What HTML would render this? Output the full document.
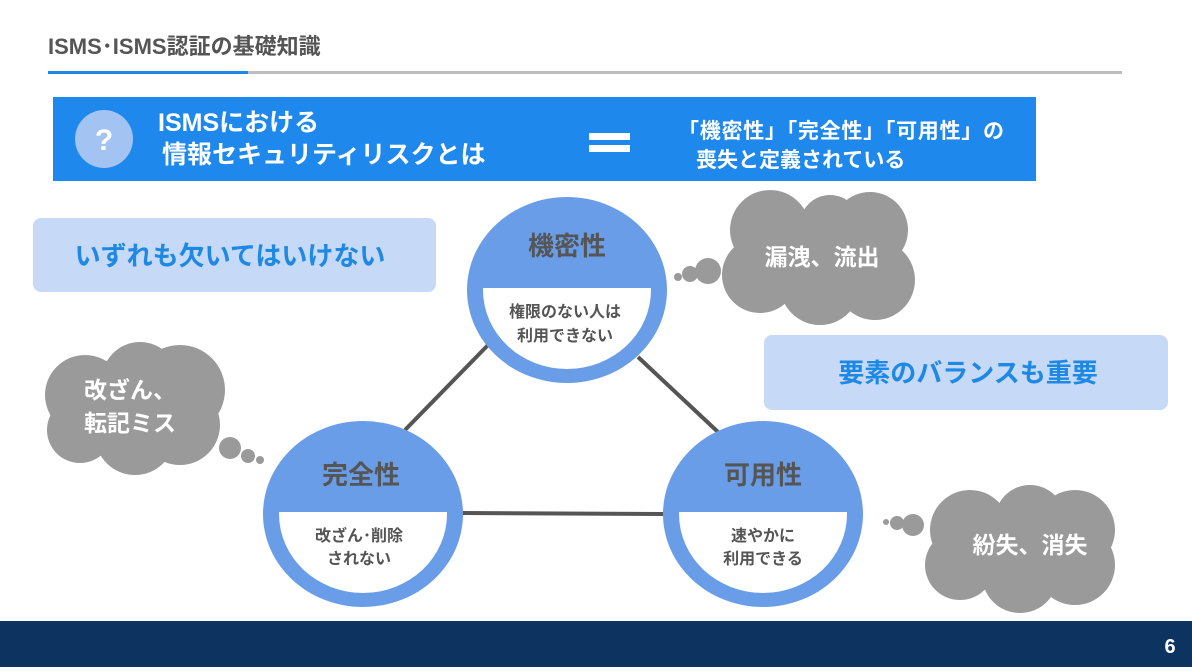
<!DOCTYPE html>
<html><head><meta charset="utf-8"><style>
body{margin:0;width:1192px;height:667px;overflow:hidden;background:#fff;font-family:"Liberation Sans","Noto Sans CJK JP",sans-serif;}
svg text{font-family:"Liberation Sans","Noto Sans CJK JP",sans-serif;font-weight:bold;}
</style></head><body>
<svg width="1192" height="667" viewBox="0 0 1192 667" xmlns="http://www.w3.org/2000/svg">
<text x="48" y="54" font-size="22" fill="#555">ISMS･ISMS認証の基礎知識</text>
<rect x="48" y="71" width="1074" height="3" fill="#bdbdbd"/>
<rect x="48" y="71" width="200" height="3" fill="#1e88e5"/>
<rect x="53" y="97" width="983" height="84" fill="#1f88ec"/>
<circle cx="104" cy="139" r="29" fill="#a3c3f2"/>
<text x="104" y="150" font-size="30" fill="#fff" text-anchor="middle">?</text>
<text x="158" y="131" font-size="25" fill="#fff">ISMSにおける</text>
<text x="162" y="163" font-size="25" fill="#fff">情報セキュリティリスクとは</text>
<rect x="589" y="133" width="41" height="7" fill="#fff"/>
<rect x="589" y="145" width="41" height="7" fill="#fff"/>
<text x="678" y="138" font-size="21" fill="#fff" textLength="326">「機密性」「完全性」「可用性」の</text>
<text x="696" y="167" font-size="21" fill="#fff">喪失と定義されている</text>
<rect x="33" y="218" width="403" height="74" rx="8" fill="#c6d9f6"/>
<text x="230" y="265" font-size="26" fill="#1e88e5" text-anchor="middle">いずれも欠いてはいけない</text>
<rect x="764" y="335" width="404" height="75" rx="8" fill="#c6d9f6"/>
<text x="968" y="382" font-size="26" fill="#1e88e5" text-anchor="middle">要素のバランスも重要</text>
<g stroke="#555" stroke-width="4">
<line x1="490" y1="343" x2="405" y2="430"/>
<line x1="638" y1="357" x2="718" y2="432"/>
<line x1="462" y1="513" x2="664" y2="514"/>
</g>
<defs>
<clipPath id="c1"><rect x="0" y="288" width="1192" height="200"/></clipPath>
<clipPath id="c2"><rect x="0" y="512" width="1192" height="200"/></clipPath>
</defs>
<ellipse cx="567" cy="290" rx="100" ry="93" fill="#6a9de8"/>
<ellipse cx="567" cy="290" rx="84" ry="79" fill="#fff" clip-path="url(#c1)"/>
<text x="567" y="255" font-size="26" fill="#555" text-anchor="middle">機密性</text>
<text x="565" y="317" font-size="16" fill="#555" text-anchor="middle">権限のない人は</text>
<text x="565" y="341" font-size="16" fill="#555" text-anchor="middle">利用できない</text>
<ellipse cx="363" cy="514" rx="100" ry="93" fill="#6a9de8"/>
<ellipse cx="363" cy="514" rx="84" ry="79" fill="#fff" clip-path="url(#c2)"/>
<text x="361" y="484" font-size="26" fill="#555" text-anchor="middle">完全性</text>
<text x="359" y="541" font-size="16" fill="#555" text-anchor="middle">改ざん･削除</text>
<text x="359" y="564" font-size="16" fill="#555" text-anchor="middle">されない</text>
<ellipse cx="763" cy="514" rx="100" ry="93" fill="#6a9de8"/>
<ellipse cx="763" cy="514" rx="84" ry="79" fill="#fff" clip-path="url(#c2)"/>
<text x="763" y="484" font-size="26" fill="#555" text-anchor="middle">可用性</text>
<text x="763" y="541" font-size="16" fill="#555" text-anchor="middle">速やかに</text>
<text x="763" y="564" font-size="16" fill="#555" text-anchor="middle">利用できる</text>
<g fill="#9a9a9a">
<circle cx="678" cy="277" r="4"/><circle cx="690" cy="274" r="8"/><circle cx="708" cy="271" r="13"/>
<circle cx="770" cy="230" r="40"/><circle cx="830" cy="225" r="30"/><circle cx="870" cy="230" r="38"/>
<circle cx="760" cy="275" r="38"/><circle cx="820" cy="285" r="40"/><circle cx="875" cy="280" r="40"/><circle cx="820" cy="255" r="45"/>
<circle cx="230" cy="448" r="11"/><circle cx="248" cy="456" r="7"/><circle cx="260" cy="460" r="4"/>
<circle cx="85" cy="395" r="40"/><circle cx="140" cy="380" r="38"/><circle cx="180" cy="390" r="45"/>
<circle cx="80" cy="430" r="33"/><circle cx="135" cy="435" r="40"/><circle cx="180" cy="425" r="40"/><circle cx="130" cy="405" r="50"/>
<circle cx="886" cy="522" r="3"/><circle cx="897" cy="523" r="7"/><circle cx="913" cy="525" r="11"/>
<circle cx="970" cy="530" r="40"/><circle cx="1030" cy="520" r="35"/><circle cx="1075" cy="530" r="40"/>
<circle cx="960" cy="565" r="35"/><circle cx="1020" cy="575" r="38"/><circle cx="1075" cy="565" r="40"/><circle cx="1030" cy="548" r="50"/>
</g>
<text x="822" y="265" font-size="23" fill="#fff" text-anchor="middle">漏洩、流出</text>
<text x="84" y="398" font-size="23" fill="#fff">改ざん、</text>
<text x="84" y="431" font-size="23" fill="#fff">転記ミス</text>
<text x="1030" y="553" font-size="23" fill="#fff" text-anchor="middle">紛失、消失</text>
<rect x="0" y="621" width="1192" height="46" fill="#0d3461"/>
<text x="1170" y="653" font-size="20" fill="#fff" text-anchor="middle">6</text>
</svg>
</body></html>
